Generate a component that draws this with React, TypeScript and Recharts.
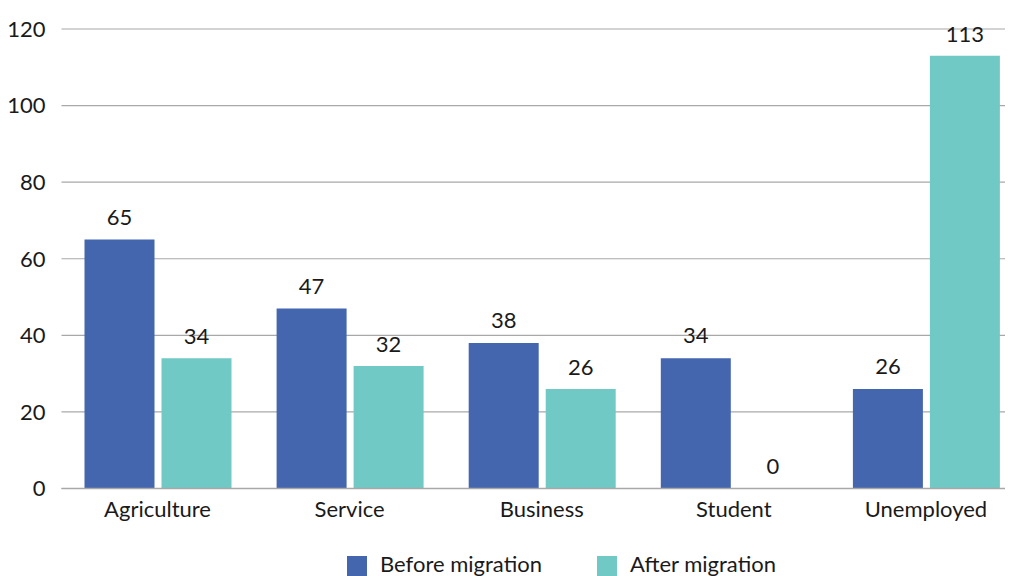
import React from 'react';
import { BarChart, Bar, XAxis, YAxis, CartesianGrid, Legend, LabelList, Rectangle } from 'recharts';

const categories = ['Agriculture', 'Service', 'Business', 'Student', 'Unemployed'];
const beforeMigration = [65, 47, 38, 34, 26];
const afterMigration = [34, 32, 26, 0, 113];
const yTicks = [0, 20, 40, 60, 80, 100, 120];
const seriesNames = ['Before migration', 'After migration'];
const colors = ['#4366AF', '#71C9C5'];

const data = categories.map((c, i) => ({
  name: c,
  before: beforeMigration[i],
  after: afterMigration[i],
}));

const FONT = 'Lato, "Open Sans", sans-serif';
const FS = 22;

const LegendContent = () => (
  <div style={{ position: 'relative', height: 20, width: 1014, fontFamily: FONT, fontSize: FS, color: '#1a1a1a' }}>
    {[0, 1].map((i) => (
      <div key={i} style={{ position: 'absolute', left: i === 0 ? 339 : 589, top: 0, height: 20 }}>
        <div style={{ position: 'absolute', left: 0, top: 0, width: 20, height: 20, background: colors[i] }} />
        <span style={{ position: 'absolute', left: 33, top: -5, lineHeight: '26px', whiteSpace: 'nowrap' }}>{seriesNames[i]}</span>
      </div>
    ))}
  </div>
);

const BarShape = (props: any) => {
  if (props.payload && props.dataKey && props.payload[props.dataKey] === 0) return <g />;
  return <Rectangle {...props} />;
};

const labelStyle = { fill: '#1a1a1a', fontSize: FS, fontFamily: FONT };

export default function App() {
  return (
    <div style={{ width: 1005, height: 568, overflow: 'hidden' }}>
      <BarChart
        width={1014}
        height={568}
        data={data}
        margin={{ top: 21, right: 0, left: 0, bottom: 37.5 }}
        barSize={70}
        barGap={7}
      >
        <CartesianGrid vertical={false} stroke="#a8a8a8" strokeWidth={1.2} />
        <XAxis
          dataKey="name"
          axisLine={{ stroke: '#a8a8a8', strokeWidth: 1.5 }}
          tickLine={false}
          tickSize={0}
          tickMargin={13}
          height={30}
          tick={{ fill: '#1a1a1a', fontSize: FS, fontFamily: FONT }}
        />
        <YAxis
          domain={[0, 120]}
          ticks={yTicks}
          width={53.5}
          axisLine={false}
          tickLine={false}
          tickSize={0}
          tickMargin={16}
          tick={{ fill: '#1a1a1a', fontSize: FS, fontFamily: FONT }}
        />
        <Legend verticalAlign="bottom" content={<LegendContent />} wrapperStyle={{ top: 548, left: 0, width: 1014 }} />
        <Bar dataKey="before" name={seriesNames[0]} fill={colors[0]} isAnimationActive={false} shape={BarShape}>
          <LabelList dataKey="before" position="top" offset={15} style={labelStyle} />
        </Bar>
        <Bar dataKey="after" name={seriesNames[1]} fill={colors[1]} isAnimationActive={false} shape={BarShape} minPointSize={1}>
          <LabelList dataKey="after" position="top" offset={14} style={labelStyle} />
        </Bar>
      </BarChart>
    </div>
  );
}
